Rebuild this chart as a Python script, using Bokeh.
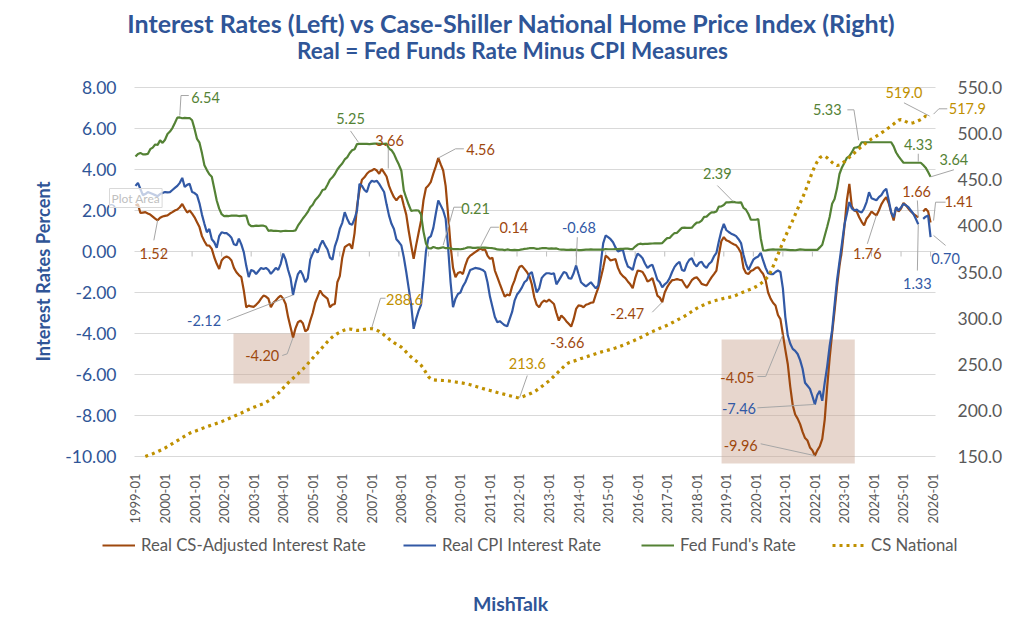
import math

from bokeh.plotting import figure
from bokeh.models import (Range1d, LinearAxis, FixedTicker, NumeralTickFormatter,
                          Label, Arrow, BoxAnnotation, Legend, LegendItem)
from bokeh.embed import file_html
from bokeh.resources import INLINE

nan = float("nan")

# monthly data, 1999-01 .. 2025-12 (one row per year)
years = list(range(1999, 2027))
tick_labels = [f"{y}-01" for y in years]

real_cs_adj = [
    2.24, 2.3, 1.88, 1.9, 1.92, 1.85, 1.8, 1.7, 1.6, 1.52, 1.65, 1.71,
    1.74, 1.76, 1.85, 1.92, 2.0, 2.05, 2.16, 2.32, 2.1, 1.9, 2.0, 1.85,
    1.67, 1.43, 1.19, 0.75, 0.5, 0.3, 0.29, 0.13, -0.28, -0.6, -0.85, -0.44,
    -0.3, -0.24, -0.3, -0.44, -0.8, -1.01, -1.15, -1.25, -1.9, -2.72, -2.64, -2.68,
    -2.7, -2.6, -2.48, -2.3, -2.15, -2.2, -2.3, -2.72, -2.5, -2.39, -2.25, -2.15,
    -2.3, -2.56, -3.2, -3.7, -4.20, -3.75, -3.45, -3.37, -3.5, -3.9, -3.8, -3.37,
    -3.0, -2.5, -2.2, -1.9, -2.1, -2.2, -2.3, -2.72, -2.6, -2.56, -1.5, -1.2,
    -0.3, 0.21, 0.3, 0.37, 0.13, 0.9, 2.2, 3.0, 3.5, 3.62, 3.79, 3.9,
    3.95, 4.03, 3.95, 3.79, 4.03, 3.85, 3.66, 3.2, 2.9, 2.65, 2.49, 2.65,
    2.73, 2.24, 1.8, 1.0, 0.3, -0.36, 0.3, 0.9, 1.5, 2.5, 3.1, 3.22,
    3.4, 3.8, 4.15, 4.56, 4.25, 3.95, 3.2, 1.8, 0.3, -0.8, -1.25, -1.05,
    -1.0, -1.1, -0.68, -0.35, -0.2, -0.12, -0.03, 0.05, 0.14, 0.08, 0.1, -0.2,
    -0.36, -0.3, -0.93, -1.25, -1.58, -1.9, -2.2, -2.1, -2.15, -1.7, -1.41, -1.01,
    -0.75, -0.7, -0.85, -1.0, -1.2, -1.6, -2.23, -2.6, -2.72, -2.5, -2.39, -2.45,
    -2.35, -2.45, -2.56, -3.0, -3.37, -3.12, -3.24, -3.4, -3.53, -3.66, -3.3, -2.8,
    -2.63, -2.65, -2.72, -2.6, -2.56, -2.5, -2.48, -2.1, -1.77, -1.3, -0.8, -0.2,
    -0.3, -0.44, -0.4, -0.37, -0.8, -1.06, -1.2, -1.3, -1.46, -1.6, -1.79, -1.3,
    -0.93, -0.95, -1.0, -1.2, -1.46, -1.4, -1.3, -1.7, -2.15, -2.25, -2.47, -2.0,
    -1.74, -1.55, -1.4, -1.38, -1.35, -1.38, -1.4, -1.6, -1.77, -1.6, -1.4, -1.3,
    -1.26, -1.4, -1.58, -1.62, -1.66, -1.45, -1.26, -1.1, -0.93, -0.16, 0.5, 0.7,
    0.55, 0.5, 0.42, 0.35, 0.3, 0.15, -0.07, -0.8, -1.05, -1.1, -0.95, -0.9,
    -0.8, -0.77, -0.95, -1.1, -1.41, -2.0, -2.3, -2.5, -2.63, -3.1, -3.3, -4.05,
    -4.8, -5.5, -6.6, -7.5, -7.95, -8.15, -8.42, -8.8, -9.1, -9.22, -9.56, -9.7,
    -9.96, -9.7, -9.5, -9.14, -8.2, -6.6, -5.2, -4.0, -2.9, -1.7, -0.7, 0.1,
    1.2, 2.5, 3.30, 2.2, 2.0, 1.95, 1.67, 1.45, 1.27, 1.6, 1.75, 1.95,
    1.85, 1.76, 2.0, 2.3, 2.5, 2.65, 2.35, 1.9, 1.51, 2.16, 1.95, 2.1,
    2.37, 2.25, 2.1, 1.95, 1.84, 1.75, 1.66, nan, 1.95, 2.08, 1.95, 1.41,
]

real_cpi = [
    3.2, 3.35, 3.05, 2.75, 2.8, 2.9, 2.85, 2.8, 2.75, 2.7, 2.8, 2.85,
    2.9, 2.88, 2.9, 3.0, 3.1, 3.2, 3.35, 3.59, 3.15, 3.25, 3.3, 2.9,
    2.85, 2.75, 2.35, 1.8, 1.35, 0.94, 1.1, 0.6, 0.45, 0.18, 0.75, 0.94,
    0.9, 0.9, 0.8, 0.67, 0.35, 0.3, 0.63, 0.35, -0.03, -0.7, -1.25, -0.9,
    -0.95, -1.1, -0.95, -0.8, -0.85, -0.8, -0.9, -1.09, -0.95, -0.8, -0.9, -0.6,
    -0.1, -0.4, -0.9, -1.3, -2.12, -1.55, -1.1, -0.93, -1.15, -1.5, -1.3, -0.4,
    -0.1, 0.13, -0.05, 0.3, 0.54, 0.3, 0.1, -0.3, -0.4, 0.25, 0.6, 1.1,
    1.4, 1.92, 1.6, 1.35, 1.3, 1.6, 2.0, 3.3, 3.2, 3.0, 2.9, 3.3,
    3.45, 3.4, 3.45, 3.3, 3.1, 2.9, 2.3, 1.75, 1.35, 1.1, 0.6, 0.46,
    0.3, -0.28, -1.0, -1.8, -2.6, -3.77, -3.3, -2.9, -2.6, -1.4, 0.0, 0.65,
    0.75, 1.15, 1.84, 2.49, 2.25, 2.0, 1.6, 0.2, -1.5, -2.72, -2.3, -2.07,
    -2.0, -1.7, -1.5, -1.2, -0.9, -0.85, -0.8, -0.82, -0.85, -0.9, -1.0, -1.5,
    -2.2, -2.7, -3.2, -3.45, -3.4, -3.5, -3.6, -3.65, -3.3, -2.95, -2.4, -2.1,
    -1.95, -1.75, -1.5, -1.4, -1.1, -1.0, -1.5, -2.0, -1.8, -1.3, -1.15, -1.06,
    -1.06, -1.1, -1.06, -1.6, -1.41, -1.2, -1.0, -1.05, -1.3, -1.33, -1.06, -0.68,
    -1.1, -1.5, -1.61, -1.7, -1.6, -1.5, -1.65, -1.8, -1.65, -0.6, 0.4, 0.78,
    0.7, 0.6, 0.45, 0.2, 0.0, 0.05, 0.08, -0.4, -0.73, -0.8, -0.9, -0.4,
    -0.1, -0.2, -0.33, -0.6, -0.8, -0.7, -0.65, -1.0, -1.38, -1.5, -1.75, -1.6,
    -1.5, -1.3, -1.0, -0.75, -0.6, -0.5, -0.9, -0.95, -0.6, -0.4, -0.33, -0.6,
    -0.73, -0.55, -0.5, -0.7, -0.8, -0.6, -0.5, -0.24, -0.07, 0.5, 1.0, 1.35,
    1.05, 0.95, 0.87, 0.82, 0.75, 0.6, 0.41, -0.16, -0.6, -0.9, -0.65, -0.4,
    -0.3, -0.24, -0.07, -0.45, -0.8, -1.06, -1.1, -1.1, -1.0, -0.93, -1.0, -1.8,
    -3.2, -4.1, -4.5, -4.75, -4.85, -5.0, -5.3, -5.72, -6.4, -6.55, -6.7, -7.06,
    -7.46, -7.0, -6.8, -7.28, -6.4, -5.6, -4.6, -3.84, -2.6, -1.4, -0.5, 0.4,
    1.3, 1.84, 2.41, 2.1, 2.0, 2.05, 1.95, 1.9, 2.1, 2.41, 2.89, 2.6,
    2.55, 2.5, 2.65, 2.75, 2.95, 3.06, 2.5, 1.9, 1.67, 2.16, 2.0, 2.15,
    2.32, 2.25, 2.16, 2.0, 1.84, 1.6, 1.33, nan, 1.59, 1.7, 1.76, 0.70,
]

fed_funds = [
    4.63, 4.76, 4.81, 4.74, 4.74, 4.76, 4.99, 5.07, 5.22, 5.20, 5.42, 5.30,
    5.45, 5.73, 5.85, 6.02, 6.27, 6.53, 6.54, 6.50, 6.52, 6.51, 6.51, 6.40,
    5.98, 5.49, 5.31, 4.80, 4.21, 3.97, 3.77, 3.65, 3.07, 2.49, 2.09, 1.82,
    1.73, 1.74, 1.73, 1.75, 1.75, 1.75, 1.73, 1.74, 1.75, 1.75, 1.34, 1.24,
    1.24, 1.26, 1.25, 1.26, 1.26, 1.22, 1.01, 1.03, 1.01, 1.01, 1.00, 0.98,
    1.00, 1.01, 1.00, 1.00, 1.00, 1.03, 1.26, 1.43, 1.61, 1.76, 1.93, 2.16,
    2.28, 2.50, 2.63, 2.79, 3.00, 3.04, 3.26, 3.50, 3.62, 3.78, 4.00, 4.16,
    4.29, 4.49, 4.59, 4.79, 4.94, 4.99, 5.24, 5.25, 5.25, 5.25, 5.25, 5.24,
    5.25, 5.26, 5.26, 5.25, 5.25, 5.25, 5.26, 5.02, 4.94, 4.76, 4.49, 4.24,
    3.94, 2.98, 2.61, 2.28, 1.98, 2.00, 2.01, 2.00, 1.81, 0.97, 0.39, 0.16,
    0.15, 0.22, 0.18, 0.15, 0.18, 0.21, 0.16, 0.16, 0.15, 0.12, 0.12, 0.12,
    0.11, 0.13, 0.16, 0.20, 0.20, 0.18, 0.18, 0.19, 0.19, 0.19, 0.19, 0.18,
    0.17, 0.16, 0.14, 0.10, 0.09, 0.09, 0.07, 0.10, 0.08, 0.07, 0.08, 0.07,
    0.08, 0.10, 0.13, 0.14, 0.16, 0.16, 0.16, 0.13, 0.14, 0.16, 0.16, 0.16,
    0.14, 0.15, 0.14, 0.15, 0.11, 0.09, 0.09, 0.08, 0.08, 0.09, 0.08, 0.09,
    0.07, 0.07, 0.08, 0.09, 0.09, 0.10, 0.09, 0.09, 0.09, 0.09, 0.09, 0.12,
    0.11, 0.11, 0.11, 0.12, 0.12, 0.13, 0.13, 0.14, 0.14, 0.12, 0.12, 0.24,
    0.34, 0.38, 0.36, 0.37, 0.37, 0.38, 0.39, 0.40, 0.40, 0.40, 0.41, 0.54,
    0.65, 0.66, 0.79, 0.90, 0.91, 1.04, 1.15, 1.16, 1.15, 1.15, 1.16, 1.30,
    1.41, 1.42, 1.51, 1.69, 1.70, 1.82, 1.91, 1.91, 1.95, 2.19, 2.20, 2.27,
    2.40, 2.40, 2.41, 2.42, 2.39, 2.38, 2.40, 2.13, 2.04, 1.83, 1.55, 1.55,
    1.55, 1.58, 0.65, 0.05, 0.05, 0.08, 0.09, 0.10, 0.09, 0.09, 0.09, 0.09,
    0.09, 0.08, 0.07, 0.07, 0.06, 0.08, 0.10, 0.09, 0.08, 0.08, 0.08, 0.08,
    0.08, 0.08, 0.20, 0.33, 0.77, 1.21, 1.68, 2.33, 2.56, 3.08, 3.78, 4.10,
    4.33, 4.57, 4.65, 4.83, 5.06, 5.08, 5.12, 5.33, 5.33, 5.33, 5.33, 5.33,
    5.33, 5.33, 5.33, 5.33, 5.33, 5.33, 5.33, 5.33, 5.13, 4.83, 4.64, 4.48,
    4.33, 4.33, 4.33, 4.33, 4.33, 4.33, 4.33, 4.33, 4.22, 4.09, 3.88, 3.64,
]

# the first months sit below the 150 floor of the right axis and are not shown
cs_national = [
    nan, nan, nan, nan, 150.0, 151.0, 152.0, 153.0, 154.2, 155.3, 156.5, 157.7,
    159.2, 160.8, 162.4, 164.0, 165.6, 167.2, 168.8, 170.4, 172.0, 173.6, 175.2, 176.3,
    177.3, 178.3, 179.3, 180.3, 181.3, 182.3, 183.2, 184.1, 185.0, 185.9, 186.8, 187.8,
    188.9, 190.0, 191.2, 192.4, 193.6, 194.8, 196.0, 197.2, 198.5, 199.8, 201.0, 202.2,
    203.3, 204.3, 205.3, 206.3, 207.2, 208.6, 210.2, 212.0, 214.0, 216.0, 218.5, 221.3,
    224.2, 227.0, 229.8, 232.4, 234.8, 237.2, 239.6, 242.2, 244.8, 247.6, 250.6, 253.6,
    256.6, 259.6, 262.4, 265.4, 268.4, 271.4, 274.4, 277.2, 279.6, 281.6, 283.3, 284.8,
    286.0, 287.2, 288.0, 288.2, 287.8, 287.2, 286.7, 286.8, 287.3, 287.8, 288.2, 288.4,
    288.6, 288.0, 287.0, 285.6, 283.8, 281.8, 279.6, 277.3, 275.2, 273.4, 271.8, 270.3,
    268.5, 266.0, 263.2, 260.3, 257.8, 255.6, 253.6, 251.6, 249.0, 245.4, 241.0, 236.5,
    234.0, 233.2, 232.8, 232.6, 232.5, 232.4, 232.3, 232.0, 231.6, 231.2, 230.8, 230.4,
    230.0, 229.6, 229.0, 228.5, 227.8, 227.0, 226.2, 225.4, 224.6, 223.8, 223.0, 222.3,
    221.6, 220.9, 220.2, 219.4, 218.7, 218.0, 217.3, 216.6, 215.9, 215.2, 214.5, 213.9,
    213.6, 214.6, 215.6, 216.6, 217.7, 218.8, 220.2, 221.9, 223.8, 225.8, 227.8, 230.0,
    231.8, 234.4, 237.0, 239.6, 242.2, 244.8, 247.4, 250.0, 251.6, 252.6, 253.4, 254.2,
    255.2, 256.2, 257.0, 257.9, 258.8, 259.7, 260.6, 261.5, 262.4, 263.1, 263.8, 264.5,
    265.3, 266.1, 266.9, 267.7, 268.6, 269.6, 270.6, 271.6, 272.7, 273.8, 275.0, 276.2,
    277.4, 278.7, 280.0, 281.4, 282.8, 284.2, 285.4, 286.6, 287.8, 289.0, 290.1, 291.2,
    292.3, 293.6, 295.0, 296.4, 297.8, 299.2, 300.6, 302.0, 303.6, 305.4, 307.2, 309.0,
    310.6, 312.0, 313.3, 314.5, 315.7, 316.8, 317.8, 318.6, 319.3, 320.0, 320.7, 321.4,
    322.0, 322.5, 323.0, 323.8, 324.8, 326.0, 327.2, 328.3, 329.4, 330.4, 331.4, 332.6,
    334.0, 335.6, 337.4, 339.6, 342.2, 345.4, 350.0, 356.0, 362.4, 369.0, 375.6, 382.0,
    388.4, 394.4, 400.0, 406.0, 412.2, 418.4, 424.6, 430.6, 437.0, 444.0, 451.4, 458.6,
    464.8, 469.8, 474.0, 475.6, 475.6, 473.8, 471.2, 468.8, 466.6, 465.4, 466.0, 467.8,
    469.6, 471.8, 474.2, 476.6, 479.0, 481.4, 483.8, 486.0, 488.2, 490.4, 492.4, 494.2,
    495.8, 497.4, 499.0, 500.8, 502.6, 504.6, 506.4, 508.4, 510.4, 512.6, 514.6, 515.2,
    514.4, 513.0, 511.8, 511.2, 511.8, 512.8, 514.0, 515.2, 516.8, 519.0, 518.4, 517.9,
]

months = list(range(len(fed_funds)))

# labelled points: series, month index, label offset (px, up is +), leader path (px)
data_labels = [
    ("fed", 18, 25.7, 20.2, [(9, 21.9), (1.2, 21.9), (0, 2)]),
    ("fed", 91, -9, 25.7, [(-9, 13), (-1, 1.5)]),
    ("adj", 102, 3, 36, [(1.7, 28), (1.7, 8)]),
    ("adj", 9, -3.8, -33.5, [(-3.8, -20), (0, 0)]),
    ("cpi", 64, -89, -25.5, [(-66, -25.5), (0, 0)]),
    ("adj", 64, -30.8, -17.9, [(-10.8, -17.9), (-5.8, -16.2), (0, 0)]),
    ("cs", 96, 32.7, 29.1, [(13.7, 30.4), (8.7, 30.4), (0, 1)]),
    ("adj", 123, 42.3, 8.2, [(25.6, 9.2), (17.3, 9.2), (0, 0)]),
    ("fed", 125, 32.4, 38.4, [(19.1, 40), (10.7, 40), (0, 2)]),
    ("adj", 140, 33.8, 20.8, [(18.8, 21.4), (10.5, 21.4), (0, 1)]),
    ("cpi", 179, 2.8, 37.6, [(1.2, 28.2), (0, 0)]),
    ("adj", 214, -35, -11.1, [(-10, -10.1), (0, 0)]),
    ("adj", 177, -3.9, -15.7, []),
    ("cs", 156, 7.8, 34.6, [(7.8, 22.3), (0, 0)]),
    ("fed", 244, -18.8, 28.7, [(-18.8, 17), (-3, 1)]),
    ("fed", 295, -34.3, 32.4, [(-14.3, 32.4), (-7.7, 32.4), (-3, 2)]),
    ("cs", 321, -21.7, 23.9, [(-21.7, 13.3), (4, 0)]),
    ("cs", 323, 36.7, 8.3, [(16.7, 8.3), (8.3, 8.3), (3, 3)]),
    ("fed", 318, 0, 18.2, [(0, 9), (0, 1)]),
    ("fed", 323, 23.3, 17.1, [(23.3, 7.1), (0, 0)]),
    ("adj", 318, -1.6, 26.3, [(-0.9, 17), (0, 0)]),
    ("adj", 323, 28.3, 21.4, [(15, 20.4), (5, 20.4), (3, 2)]),
    ("adj", 301, -9.1, -38.4, [(-9.1, -28.4), (0, 0)]),
    ("cpi", 318, -0.9, -59.6, [(-0.9, -46.3), (0, 0)]),
    ("cpi", 323, 15, -21.6, [(15, -8.3), (3, 1.7)]),
    ("adj", 263, -45.5, -42.7, [(-25.5, -42), (-17.2, -42), (0, 0)]),
    ("cpi", 276, -75.9, -4.4, [(-57.5, -3.4), (0, 0)]),
    ("adj", 276, -74.2, 10.2, [(-54.2, 11.9), (0, 0)]),
]

ORANGE = "#9E480E"
BLUE = "#3259A5"
GREEN = "#548235"
GOLD = "#BF9000"
NAVY = "#2F5597"
GRAY = "#595959"
GRID = "#D9D9D9"
LEADER = "#A6A6A6"
FONT = "Lato"

# the Bokeh frame covers the whole canvas; the gridded area sits inside it
W, H = 1008, 626
GRID_L, GRID_T, GRID_R, GRID_B = 134, 87, 935, 456
X0, X_END = -0.4, 325.0
px_x = (GRID_R - GRID_L) / (X_END - X0)
px_y = (GRID_B - GRID_T) / 18.0
px_cs = (GRID_B - GRID_T) / 400.0


def at(px, py):
    # canvas position -> data coords of the left axis
    return X0 + (px - GRID_L) / px_x, 8 - (py - GRID_T) / px_y


p = figure(width=W, height=H, output_backend="svg", toolbar_location=None, title=None,
           x_range=Range1d(X0 - GRID_L / px_x, X0 + (W - GRID_L) / px_x),
           y_range=Range1d(8 - (H - GRID_T) / px_y, 8 + GRID_T / px_y),
           min_border=0, min_border_left=0, min_border_right=0,
           min_border_top=0, min_border_bottom=0)
p.outline_line_color = None
p.extra_y_ranges = {"cs": Range1d(550 - (H - GRID_T) / px_cs, 550 + GRID_T / px_cs)}

# axes pinned to the edges of the gridded area
p.xaxis.fixed_location = -10
p.xaxis.ticker = FixedTicker(ticks=[12 * k for k in range(len(years))])
p.xaxis.major_label_overrides = {12 * k: t for k, t in enumerate(tick_labels)}
p.xaxis.major_label_orientation = math.pi / 2
p.xaxis.major_label_text_font = FONT
p.xaxis.major_label_text_font_size = "13px"
p.xaxis.major_label_text_color = GRAY
p.xaxis.major_label_standoff = 11
p.xaxis.axis_line_color = None
p.xaxis.major_tick_line_color = None
p.xaxis.minor_tick_line_color = None

p.yaxis.fixed_location = X0
p.yaxis.ticker = FixedTicker(ticks=list(range(-10, 9, 2)))
p.yaxis.formatter = NumeralTickFormatter(format="0.00")
p.yaxis.major_label_text_font = FONT
p.yaxis.major_label_text_font_size = "17.5px"
p.yaxis.major_label_text_color = NAVY
p.yaxis.major_label_standoff = 12
p.yaxis.axis_line_color = None
p.yaxis.major_tick_line_color = None
p.yaxis.minor_tick_line_color = None

right = LinearAxis(y_range_name="cs", ticker=FixedTicker(ticks=list(range(150, 551, 50))),
                   formatter=NumeralTickFormatter(format="0.0"), fixed_location=X_END)
right.major_label_text_font = FONT
right.major_label_text_font_size = "17.5px"
right.major_label_text_color = GRAY
right.major_label_standoff = 16
right.axis_line_color = None
right.major_tick_line_color = None
right.minor_tick_line_color = None
p.add_layout(right, "right")

p.xgrid.visible = False
grid = p.ygrid[0]
grid.ticker = FixedTicker(ticks=list(range(-10, 9, 2)))
grid.grid_line_color = GRID
if "cross_bounds" in grid.properties():
    grid.cross_bounds = (X0, X_END)
else:
    grid.visible = False
    gy = list(range(-10, 9, 2))
    p.segment(x0=[X0] * len(gy), y0=gy, x1=[X_END] * len(gy), y1=gy, line_color=GRID,
              level="underlay")

# shaded call-outs
for l, r, b, t in [(39.8, 70.7, -6.44, -4.0), (238.1, 292.2, -10.34, -4.29)]:
    p.add_layout(BoxAnnotation(left=l, right=r, bottom=b, top=t, fill_color="#C9A591",
                               fill_alpha=0.45, line_color=None, level="underlay"))

# category tick marks hanging off the zero line
tick_x = [12 * k - 1 for k in range(1, len(years))]
p.segment(x0=tick_x, y0=0, x1=tick_x, y1=-5 / px_y, line_color="#BFBFBF", line_width=1)

r_adj = p.line(months, real_cs_adj, line_color=ORANGE, line_width=2.2)
r_cpi = p.line(months, real_cpi, line_color=BLUE, line_width=2.2)
r_fed = p.line(months, fed_funds, line_color=GREEN, line_width=2.2)
r_cs = p.line(months, cs_national, line_color=GOLD, line_width=3.2, line_dash="3 4",
              y_range_name="cs")

# legend entries, each at its own slot under the axis labels
for rend, text, left in [(r_adj, "Real CS-Adjusted Interest Rate", 102),
                         (r_cpi, "Real CPI Interest Rate", 403),
                         (r_fed, "Fed Fund's Rate", 641),
                         (r_cs, "CS National", 832)]:
    p.add_layout(Legend(items=[LegendItem(label=text, renderers=[rend])],
                        location=(left, H - 555), orientation="horizontal",
                        padding=0, margin=0, spacing=0, glyph_width=33, glyph_height=18,
                        label_height=18, label_standoff=6, border_line_color=None,
                        background_fill_alpha=0, label_text_font=FONT,
                        label_text_font_size="16.7px", label_text_color=GRAY))

series = {
    "adj": (real_cs_adj, ORANGE, "default", px_y, "{:.2f}"),
    "cpi": (real_cpi, BLUE, "default", px_y, "{:.2f}"),
    "fed": (fed_funds, GREEN, "default", px_y, "{:.2f}"),
    "cs": (cs_national, GOLD, "cs", px_cs, "{:.1f}"),
}

for name, i, dx, dy, leader in data_labels:
    vals, color, rng, ppu, fmt = series[name]
    v = vals[i]
    pts = [(i + a / px_x, v + b / ppu) for a, b in leader]
    for (xa, ya), (xb, yb) in zip(pts, pts[1:]):
        p.add_layout(Arrow(end=None, x_start=xa, y_start=ya, x_end=xb, y_end=yb,
                           y_range_name=rng, line_color=LEADER, line_width=1))
    p.add_layout(Label(x=i + dx / px_x, y=v + dy / ppu, y_range_name=rng, text=fmt.format(v),
                       text_align="center", text_baseline="middle", text_font=FONT,
                       text_font_size="14.5px", text_color=color))


def caption(text, px, py, size, bold=True, color=NAVY, **kw):
    x, y = at(px, py)
    p.add_layout(Label(x=x, y=y, text=text, text_align=kw.pop("align", "center"),
                       text_baseline="middle", text_font=FONT,
                       text_font_style="bold" if bold else "normal",
                       text_font_size=size, text_color=color, **kw))


caption("Interest Rates (Left) vs Case-Shiller National Home Price Index (Right)", 511, 22, "25px")
caption("Real = Fed Funds Rate Minus CPI Measures", 512, 50, "22.5px")
caption("Interest Rates Percent", 42, 271, "18.3px", angle=math.pi / 2)
caption("MishTalk", 510, 603, "19.5px")
caption("Plot Area", 109, 197.5, "12px", bold=False, color="#BFBFBF", align="left",
        border_line_color="#D9D9D9", background_fill_color="white",
        background_fill_alpha=0.7, padding=2)

open("out.html", "w").write(file_html(p, INLINE))
